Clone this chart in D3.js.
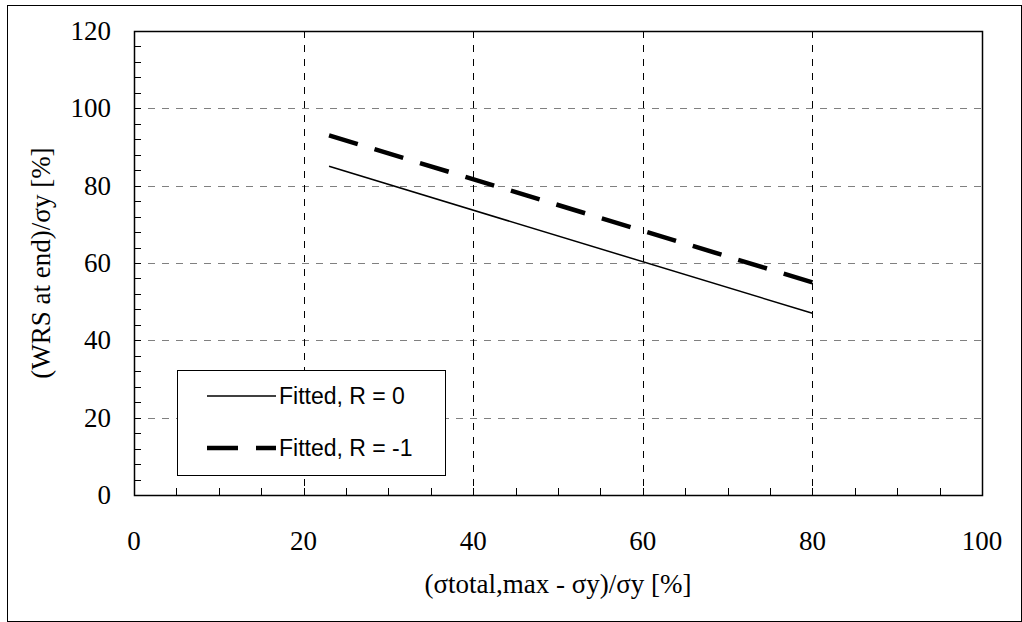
<!DOCTYPE html>
<html>
<head>
<meta charset="utf-8">
<script src="https://cdn.jsdelivr.net/npm/d3@7"></script>
<style>
  html, body { margin: 0; padding: 0; background: #fff; }
  svg { display: block; }
  svg text.serif { font-family: "Liberation Serif", "Times New Roman", Tinos, serif; }
  svg text.sans { font-family: "Liberation Sans", Arial, sans-serif; }
</style>
</head>
<body>
<svg id="chart" width="1022" height="622" font-family="Liberation Serif"></svg>
<script>
// Fitted lines: end points of each fit
const seriesNames = ["Fitted, R = 0", "Fitted, R = -1"];
const xValues = [23, 80];
const fitR0 = [85, 47];
const fitRm1 = [93, 55];

// Axis ticks
const xTicks = [0, 20, 40, 60, 80, 100];
const yTicks = [0, 20, 40, 60, 80, 100, 120];
const xMinorStep = 5;
const yMinorStep = 4;

const svg = d3.select("#chart");
const W = 1022, H = 622;
const plot = { left: 134, right: 982, top: 31, bottom: 495 };

// outer frame
svg.append("rect")
  .attr("x", 7.5).attr("y", 5.5)
  .attr("width", W - 8).attr("height", H - 6)
  .attr("fill", "#fff").attr("stroke", "#000").attr("stroke-width", 1);

const x = d3.scaleLinear().domain([0, 100]).range([plot.left, plot.right]);
const y = d3.scaleLinear().domain([0, 120]).range([plot.bottom, plot.top]);

// grid
const grid = svg.append("g");
grid.selectAll("line.h")
  .data(yTicks.filter(v => v > 0 && v < 120))
  .join("line")
  .attr("x1", plot.left).attr("x2", plot.right)
  .attr("y1", d => Math.round(y(d)) + 0.5).attr("y2", d => Math.round(y(d)) + 0.5)
  .attr("stroke", "#808080").attr("stroke-width", 1)
  .attr("stroke-dasharray", "7,7");
grid.selectAll("line.v")
  .data(xTicks.filter(v => v > 0 && v < 100))
  .join("line")
  .attr("y1", plot.top).attr("y2", plot.bottom)
  .attr("x1", d => Math.round(x(d)) + 0.5).attr("x2", d => Math.round(x(d)) + 0.5)
  .attr("stroke", "#000").attr("stroke-width", 1)
  .attr("stroke-dasharray", "7,7");

// minor tick marks (inside plot)
const xMinor = d3.range(0, 100 + 0.001, xMinorStep);
const yMinor = d3.range(0, 120 + 0.001, yMinorStep);
const ticks = svg.append("g").attr("stroke", "#000").attr("stroke-width", 1);
ticks.selectAll("line.xm").data(xMinor).join("line")
  .attr("x1", d => Math.round(x(d)) + 0.5).attr("x2", d => Math.round(x(d)) + 0.5)
  .attr("y1", plot.bottom).attr("y2", plot.bottom - 7);
ticks.selectAll("line.ym").data(yMinor).join("line")
  .attr("y1", d => Math.round(y(d)) + 0.5).attr("y2", d => Math.round(y(d)) + 0.5)
  .attr("x1", plot.left).attr("x2", plot.left + 7);

// plot frame
svg.append("rect")
  .attr("x", plot.left + 0.5).attr("y", plot.top + 0.5)
  .attr("width", plot.right - plot.left).attr("height", plot.bottom - plot.top)
  .attr("fill", "none").attr("stroke", "#000").attr("stroke-width", 1.5);

// tick labels
xTicks.forEach(d => {
  svg.append("text").attr("class", "serif")
    .attr("font-size", 27)
    .attr("x", x(d)).attr("y", 550)
    .attr("text-anchor", "middle")
    .text(d);
});
yTicks.forEach(d => {
  svg.append("text").attr("class", "serif")
    .attr("font-size", 27)
    .attr("x", 111).attr("y", y(d) + 9)
    .attr("text-anchor", "end")
    .text(d);
});

// axis titles
svg.append("text").attr("class", "serif")
  .attr("font-size", 27)
  .attr("x", (plot.left + plot.right) / 2).attr("y", 593)
  .attr("text-anchor", "middle")
  .text("(σtotal,max - σy)/σy [%]");
svg.append("text").attr("class", "serif")
  .attr("font-size", 27)
  .attr("transform", `translate(50, ${(plot.top + plot.bottom) / 2}) rotate(-90)`)
  .attr("text-anchor", "middle")
  .text("(WRS at end)/σy [%]");

// fitted lines
const line = d3.line().x(d => x(d[0])).y(d => y(d[1]));
svg.append("path")
  .datum(xValues.map((v, i) => [v, fitR0[i]]))
  .attr("d", line).attr("fill", "none")
  .attr("stroke", "#000").attr("stroke-width", 1.5);
const dashed = svg.append("path")
  .datum(xValues.map((v, i) => [v, fitRm1[i]]))
  .attr("d", line).attr("fill", "none")
  .attr("stroke", "#000").attr("stroke-width", 4.5);
// spread the dashes so the line starts and ends on a dash
const dashLen = 30;
const totalLen = dashed.node().getTotalLength();
const nDash = Math.round((totalLen + 17) / (dashLen + 17));
const gapLen = (totalLen - nDash * dashLen) / (nDash - 1);
dashed.attr("stroke-dasharray", `${dashLen},${gapLen}`);

// legend
const lg = svg.append("g");
lg.append("rect")
  .attr("x", 177.5).attr("y", 370.5).attr("width", 268).attr("height", 105)
  .attr("fill", "#fff").attr("stroke", "#000").attr("stroke-width", 1);
const legendRows = [
  { name: seriesNames[0], width: 1.5, dash: "none", y: 396 },
  { name: seriesNames[1], width: 4.5, dash: "31,18", y: 448 }
];
legendRows.forEach(r => {
  lg.append("line")
    .attr("x1", 207).attr("x2", 276)
    .attr("y1", r.y).attr("y2", r.y)
    .attr("stroke", "#000").attr("stroke-width", r.width)
    .attr("stroke-dasharray", r.dash);
  lg.append("text").attr("class", "sans")
    .attr("font-size", 23)
    .attr("x", 279).attr("y", r.y + 8)
    .text(r.name);
});
</script>
</body>
</html>
